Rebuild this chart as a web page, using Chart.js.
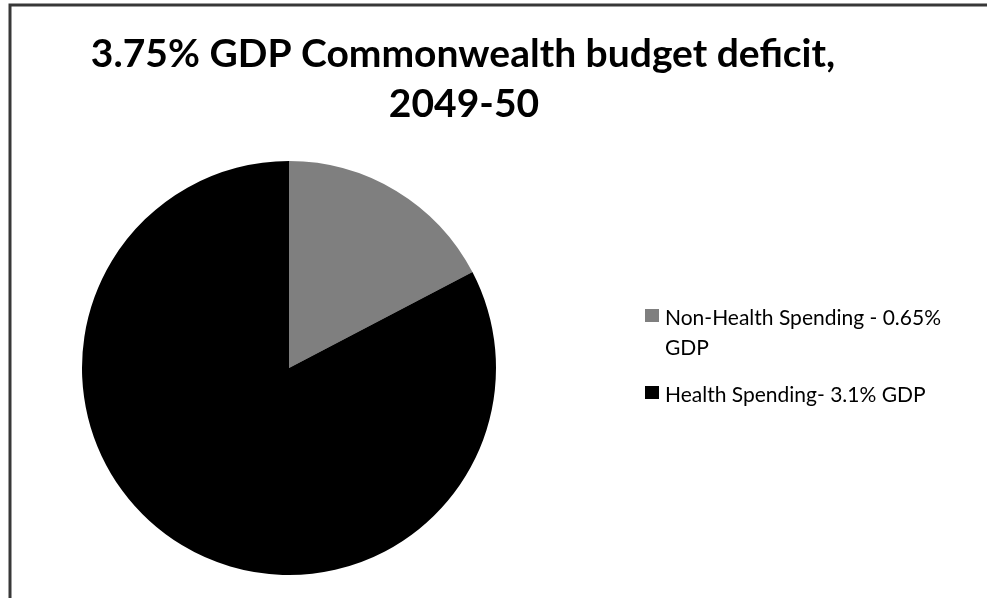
<!DOCTYPE html>
<html>
<head>
<meta charset="utf-8">
<script src="https://cdn.jsdelivr.net/npm/chart.js@4.4.1/dist/chart.umd.min.js"></script>
<style>
  html, body { margin: 0; padding: 0; background: #ffffff; }
  #wrap { position: relative; width: 987px; height: 598px; }
</style>
</head>
<body>
<div id="wrap"><canvas id="c" width="987" height="598"></canvas></div>
<script>
// ---- data ----
const titleLines = ["3.75% GDP Commonwealth budget deficit,", "2049-50"];
const categories = [
  ["Non-Health Spending - 0.65%", "GDP"],
  ["Health Spending- 3.1% GDP"]
];
const values = [0.65, 3.1];
const colors = ["#7f7f7f", "#000000"];

const decorPlugin = {
  id: "decor",
  beforeDraw(chart) {
    const ctx = chart.ctx;
    ctx.save();
    ctx.fillStyle = "#ffffff";
    ctx.fillRect(0, 0, chart.width, chart.height);
    // outer frame (cropped on right/bottom)
    ctx.strokeStyle = "#383838";
    ctx.lineWidth = 3;
    ctx.strokeRect(10, 5, chart.width + 20, chart.height + 20);
    ctx.restore();
  },
  afterDraw(chart) {
    const ctx = chart.ctx;
    ctx.save();
    // title
    ctx.fillStyle = "#000000";
    ctx.textAlign = "center";
    ctx.textBaseline = "alphabetic";
    ctx.font = "bold 39px Lato";
    ctx.fillText(titleLines[0], 463, 67, 760);
    ctx.fillText(titleLines[1], 464, 117);
    // legend
    const ds = chart.data.datasets[0];
    const labels = chart.data.labels;
    ctx.textAlign = "left";
    ctx.font = "21px Lato";
    let y = 325;
    labels.forEach((lab, i) => {
      const lines = Array.isArray(lab) ? lab : [lab];
      ctx.fillStyle = ds.backgroundColor[i];
      ctx.fillRect(645, y - 16, 14, 13);
      ctx.fillStyle = "#000000";
      lines.forEach((ln, j) => {
        ctx.fillText(ln, 665, y + j * 30);
      });
      y += (lines.length - 1) * 30 + 47;
    });
    ctx.restore();
  }
};

new Chart(document.getElementById("c"), {
  type: "pie",
  data: {
    labels: categories,
    datasets: [{
      data: values,
      backgroundColor: colors,
      borderWidth: 0
    }]
  },
  options: {
    responsive: false,
    animation: false,
    layout: { padding: { left: 82, right: 491, top: 161, bottom: 23 } },
    plugins: {
      legend: { display: false },
      title: { display: false },
      tooltip: { enabled: false }
    }
  },
  plugins: [decorPlugin]
});
</script>
</body>
</html>
